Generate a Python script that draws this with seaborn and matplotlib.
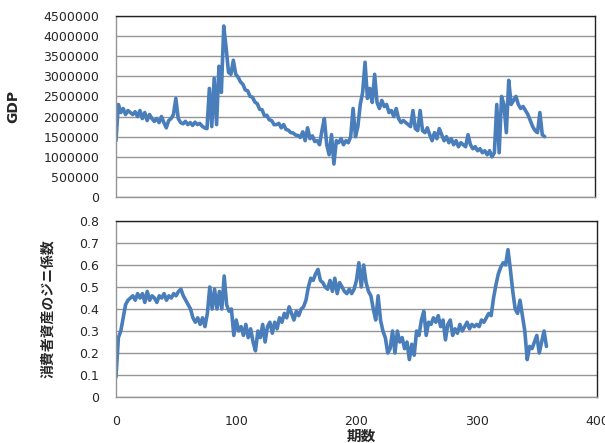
import numpy as np
import pandas as pd
import matplotlib
matplotlib.use("Agg")
import matplotlib.pyplot as plt
import seaborn as sns

# period index (sampled every 2 periods)
periods = np.arange(0, 360, 2)

# GDP in millions
gdp_m = [
    1.40, 2.30, 2.10, 2.20, 2.05, 2.15, 2.10, 2.05, 2.12, 2.00,
    2.15, 1.95, 2.10, 1.90, 2.05, 1.95, 1.88, 1.95, 1.85, 2.00,
    1.85, 1.72, 1.90, 1.95, 2.05, 2.45, 1.95, 1.85, 1.82, 1.88,
    1.80, 1.85, 1.78, 1.86, 1.80, 1.83, 1.76, 1.72, 1.70, 2.70,
    1.75, 2.95, 1.80, 3.25, 2.60, 4.25, 3.70, 3.10, 3.05, 3.40,
    3.05, 2.98, 2.86, 2.80, 2.66, 2.64, 2.50, 2.48, 2.36, 2.32,
    2.18, 2.17, 2.02, 2.03, 1.92, 1.90, 1.80, 1.80, 1.83, 1.72,
    1.80, 1.68, 1.66, 1.60, 1.59, 1.54, 1.53, 1.48, 1.62, 1.40,
    1.72, 1.45, 1.52, 1.38, 1.40, 1.30, 1.65, 1.95, 1.30, 1.05,
    1.55, 0.82, 1.40, 1.35, 1.45, 1.30, 1.40, 1.35, 1.50, 2.20,
    1.50, 1.75, 2.30, 2.60, 3.35, 2.45, 2.70, 2.35, 3.05, 2.35,
    2.20, 2.40, 2.25, 2.30, 2.10, 2.15, 2.00, 2.20, 1.95, 1.85,
    1.90, 1.85, 1.80, 1.75, 2.15, 1.70, 1.65, 2.15, 1.65, 1.60,
    1.72, 1.55, 1.40, 1.60, 1.45, 1.70, 1.55, 1.40, 1.50, 1.35,
    1.45, 1.30, 1.40, 1.25, 1.35, 1.30, 1.25, 1.55, 1.30, 1.20,
    1.25, 1.15, 1.20, 1.10, 1.15, 1.05, 1.15, 1.00, 1.10, 2.30,
    1.10, 2.50, 2.30, 1.60, 2.90, 2.30, 2.40, 2.50, 2.30, 2.20,
    2.25, 2.15, 2.05, 1.90, 1.75, 1.65, 1.60, 2.10, 1.55, 1.50,
]

# Gini coefficient of consumer assets
gini = [
    0.09, 0.27, 0.30, 0.36, 0.42, 0.44, 0.45, 0.46, 0.44, 0.47,
    0.45, 0.47, 0.43, 0.48, 0.44, 0.46, 0.45, 0.43, 0.46, 0.45,
    0.47, 0.44, 0.46, 0.45, 0.47, 0.46, 0.48, 0.49, 0.46, 0.44,
    0.42, 0.40, 0.36, 0.34, 0.36, 0.33, 0.36, 0.32, 0.38, 0.50,
    0.40, 0.49, 0.40, 0.48, 0.40, 0.55, 0.42, 0.39, 0.40, 0.28,
    0.35, 0.30, 0.32, 0.28, 0.33, 0.27, 0.31, 0.25, 0.21, 0.30,
    0.27, 0.33, 0.25, 0.32, 0.34, 0.29, 0.34, 0.31, 0.36, 0.34,
    0.38, 0.36, 0.41, 0.38, 0.35, 0.39, 0.37, 0.40, 0.41, 0.44,
    0.50, 0.54, 0.53, 0.56, 0.58, 0.53, 0.52, 0.50, 0.49, 0.53,
    0.48, 0.54, 0.47, 0.52, 0.50, 0.48, 0.47, 0.49, 0.47, 0.49,
    0.53, 0.61, 0.50, 0.60, 0.52, 0.48, 0.46, 0.40, 0.35, 0.46,
    0.35, 0.30, 0.27, 0.20, 0.22, 0.30, 0.20, 0.30, 0.25, 0.27,
    0.22, 0.25, 0.17, 0.24, 0.19, 0.30, 0.28, 0.35, 0.39, 0.28,
    0.34, 0.33, 0.36, 0.34, 0.37, 0.32, 0.35, 0.26, 0.33, 0.35,
    0.28, 0.31, 0.29, 0.33, 0.30, 0.32, 0.34, 0.31, 0.33, 0.32,
    0.33, 0.32, 0.35, 0.34, 0.36, 0.38, 0.37, 0.45, 0.51, 0.56,
    0.59, 0.61, 0.60, 0.67, 0.58, 0.48, 0.40, 0.38, 0.44, 0.37,
    0.30, 0.17, 0.23, 0.22, 0.25, 0.28, 0.20, 0.25, 0.30, 0.23,
]

df = pd.DataFrame({
    "period": periods,
    "gdp": np.array(gdp_m) * 1e6,
    "gini": gini,
})

sns.set_style("white")
plt.rcParams["font.family"] = ["DejaVu Sans", "Noto Sans CJK JP"]

line_color = "#4A7EBB"
grid_color = "#959595"
jp_font = ["Noto Sans CJK JP", "DejaVu Sans"]

fig = plt.figure(figsize=(6.05, 4.43), dpi=100)
ax_top = fig.add_axes([0.1917, 0.5553, 0.7917, 0.4086])
ax_bot = fig.add_axes([0.1917, 0.1038, 0.7950, 0.3973])

sns.lineplot(data=df, x="period", y="gdp", ax=ax_top, color=line_color, linewidth=2.6)
sns.lineplot(data=df, x="period", y="gini", ax=ax_bot, color=line_color, linewidth=2.6)

for ax in (ax_top, ax_bot):
    ax.set_xlim(0, 400)
    ax.set_xticks([0, 100, 200, 300, 400])
    ax.grid(axis="y", color=grid_color, linewidth=1.0)
    ax.set_axisbelow(True)
    ax.tick_params(axis="x", direction="in", length=3, color=grid_color, labelsize=9, pad=13)
    ax.tick_params(axis="y", length=0, labelsize=9, pad=12)
    ax.spines["left"].set_color(grid_color)
    ax.spines["bottom"].set_color(grid_color)
    ax.spines["top"].set_color("#222222")
    ax.spines["right"].set_color("#222222")
    for s in ax.spines.values():
        s.set_linewidth(1.0)
    ax.set_xlabel("")

ax_top.set_ylim(0, 4500000)
ax_top.set_yticks(np.arange(0, 4500001, 500000))
ax_top.set_yticklabels([str(v) for v in range(0, 4500001, 500000)])
ax_top.tick_params(axis="x", labelbottom=False)
ax_top.set_ylabel("GDP", fontsize=10, fontweight="bold")
ax_top.yaxis.set_label_coords(-0.2, 0.5)

ax_bot.set_ylim(0, 0.8)
ax_bot.set_yticks(np.arange(0, 0.81, 0.1))
ax_bot.set_yticklabels(["0"] + [f"{v:.1f}" for v in np.arange(0.1, 0.81, 0.1)])
ax_bot.set_ylabel("消費者資産のジニ係数", fontsize=10, fontweight="bold", family=jp_font)
ax_bot.yaxis.set_label_coords(-0.127, 0.5)
ax_bot.set_xlabel("期数", fontsize=10.5, fontweight="bold", family=jp_font)
ax_bot.xaxis.set_label_coords(0.511, -0.175)

fig.savefig("out.png", dpi=100)
